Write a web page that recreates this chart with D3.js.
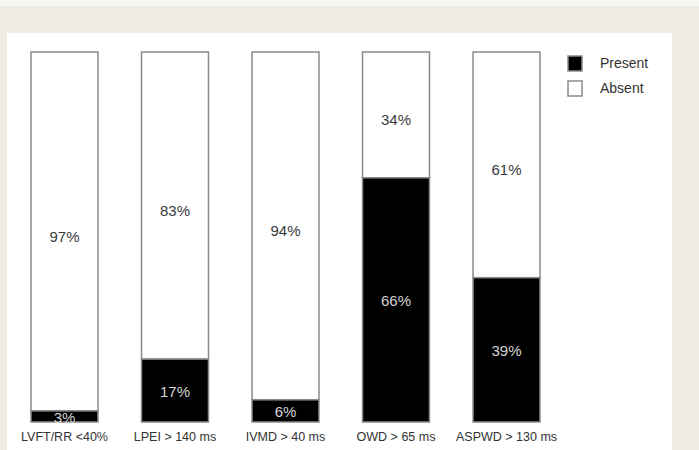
<!DOCTYPE html>
<html>
<head>
<meta charset="utf-8">
<script src="https://cdn.jsdelivr.net/npm/d3@7"></script>
<style>
  body { margin: 0; background: #efede3; }
  svg { display: block; }
  text { font-family: "Liberation Sans", Arial, sans-serif; }
</style>
</head>
<body>
<svg id="chart" width="699" height="450"></svg>
<script>
// criteria and percentage with the finding present
const criteria = ["LVFT/RR <40%", "LPEI > 140 ms", "IVMD > 40 ms", "OWD > 65 ms", "ASPWD > 130 ms"];
const present = [3, 17, 6, 66, 39];
const absent = [97, 83, 94, 34, 61];
const legendLabels = ["Present", "Absent"];

const svg = d3.select("#chart");

// page frame
svg.append("rect").attr("x", 0).attr("y", 0).attr("width", 699).attr("height", 6).attr("fill", "#f7f6f1");
svg.append("rect").attr("x", 7).attr("y", 33).attr("width", 665).attr("height", 417).attr("fill", "#fff");

const x = d3.scaleBand()
  .domain(criteria)
  .range([31, 540])
  .paddingInner(0.394)
  .paddingOuter(0);

const y = d3.scaleLinear().domain([0, 100]).range([422, 52]);

const rows = criteria.map((c, i) => ({ name: c, present: present[i], absent: absent[i] }));

const bars = svg.append("g").attr("class", "bars");

const g = bars.selectAll("g.bar")
  .data(rows)
  .enter().append("g")
  .attr("class", "bar");

// absent part (white, on top)
g.append("rect")
  .attr("x", d => x(d.name))
  .attr("y", d => y(d.present + d.absent))
  .attr("width", x.bandwidth())
  .attr("height", d => y(d.present) - y(d.present + d.absent))
  .attr("fill", "#fff")
  .attr("stroke", "#8a8a8a")
  .attr("stroke-width", 1.5);

// present part (black, at the bottom)
g.append("rect")
  .attr("x", d => x(d.name))
  .attr("y", d => y(d.present))
  .attr("width", x.bandwidth())
  .attr("height", d => y(0) - y(d.present))
  .attr("fill", "#000")
  .attr("stroke", "#8a8a8a")
  .attr("stroke-width", 1.5);

g.append("text")
  .attr("x", d => x(d.name) + x.bandwidth() / 2)
  .attr("y", d => (y(d.present) + y(d.present + d.absent)) / 2 + 5)
  .attr("dy", "0.35em")
  .attr("text-anchor", "middle")
  .attr("font-size", 15)
  .attr("fill", "#3a3a3a")
  .text(d => d.absent + "%");

g.append("text")
  .attr("x", d => x(d.name) + x.bandwidth() / 2)
  .attr("y", d => (y(0) + y(d.present)) / 2 + 1)
  .attr("dy", "0.35em")
  .attr("text-anchor", "middle")
  .attr("font-size", 15)
  .attr("fill", "#d4d4d4")
  .text(d => d.present + "%");

// category labels under the bars
const axis = svg.append("g")
  .attr("class", "axis")
  .attr("transform", "translate(0," + 429 + ")")
  .call(d3.axisBottom(x).tickSize(0).tickPadding(3));
axis.select(".domain").remove();
axis.selectAll("text")
  .attr("font-size", 12.5)
  .attr("fill", "#333");

// legend
const legend = svg.append("g").attr("class", "legend");
const li = legend.selectAll("g")
  .data(legendLabels)
  .enter().append("g")
  .attr("transform", (d, i) => "translate(568," + (56 + i * 25) + ")");
li.append("rect")
  .attr("width", 14)
  .attr("height", 15)
  .attr("fill", (d, i) => i === 0 ? "#000" : "#fff")
  .attr("stroke", "#8a8a8a")
  .attr("stroke-width", 1.5);
li.append("text")
  .attr("x", 32)
  .attr("y", 12)
  .attr("font-size", 14)
  .attr("fill", "#333")
  .text(d => d);
</script>
</body>
</html>
